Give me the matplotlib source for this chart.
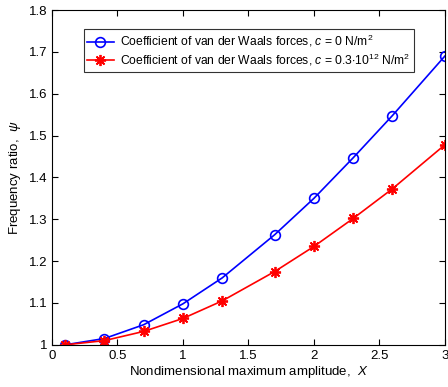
import matplotlib
matplotlib.use('Agg')
import matplotlib.pyplot as plt

plt.rcParams['font.family'] = ['Liberation Sans', 'DejaVu Sans']
plt.rcParams['mathtext.fontset'] = 'custom'
plt.rcParams['mathtext.it'] = 'Liberation Sans:italic'
plt.rcParams['mathtext.rm'] = 'Liberation Sans'

x = [0.1, 0.4, 0.7, 1.0, 1.3, 1.7, 2.0, 2.3, 2.6, 3.0]
psi_c0 = [1.0, 1.015, 1.048, 1.098, 1.160, 1.263, 1.350, 1.447, 1.548, 1.690]
psi_c03 = [1.0, 1.010, 1.032, 1.063, 1.105, 1.175, 1.235, 1.302, 1.373, 1.478]

xticks = [0, 0.5, 1, 1.5, 2, 2.5, 3]
xticklabels = ['0', '0.5', '1', '1.5', '2', '2.5', '3']
yticks = [1.0, 1.1, 1.2, 1.3, 1.4, 1.5, 1.6, 1.7, 1.8]
yticklabels = ['1', '1.1', '1.2', '1.3', '1.4', '1.5', '1.6', '1.7', '1.8']

fig = plt.figure(figsize=(4.48, 3.87), dpi=100)
ax = fig.add_axes([0.116, 0.109, 0.877, 0.865])

ax.plot(x, psi_c0, '-o', color='blue', lw=1.2, ms=7, mfc='none', mew=1.2,
        label='Coefficient of van der Waals forces, $c$ = 0 N/m$^2$')
ax.plot(x, psi_c03, '-', color='red', lw=1.2, marker=(8, 2, 0), ms=8, mew=1.3,
        label='Coefficient of van der Waals forces, $c$ = 0.3$\\cdot$10$^{12}$ N/m$^2$')

ax.set_xlim(0, 3)
ax.set_ylim(1, 1.8)
ax.set_xticks(xticks)
ax.set_xticklabels(xticklabels)
ax.set_yticks(yticks)
ax.set_yticklabels(yticklabels)
ax.tick_params(direction='in', top=True, right=True, labelsize=9.5, length=4)
ax.set_xlabel('Nondimensional maximum amplitude,  $X$', fontsize=9.5, labelpad=2)
ax.set_ylabel('Frequency ratio,  $\\mathit{\\psi}$', fontsize=9.5, labelpad=4)

leg = ax.legend(loc='upper left', bbox_to_anchor=(0.065, 0.96), fontsize=8.7,
                frameon=True, fancybox=False, edgecolor='black',
                borderpad=0.3, handlelength=2.2, labelspacing=0.2,
                handletextpad=0.5)
leg.get_frame().set_linewidth(0.8)

fig.savefig('out.png', dpi=100)
